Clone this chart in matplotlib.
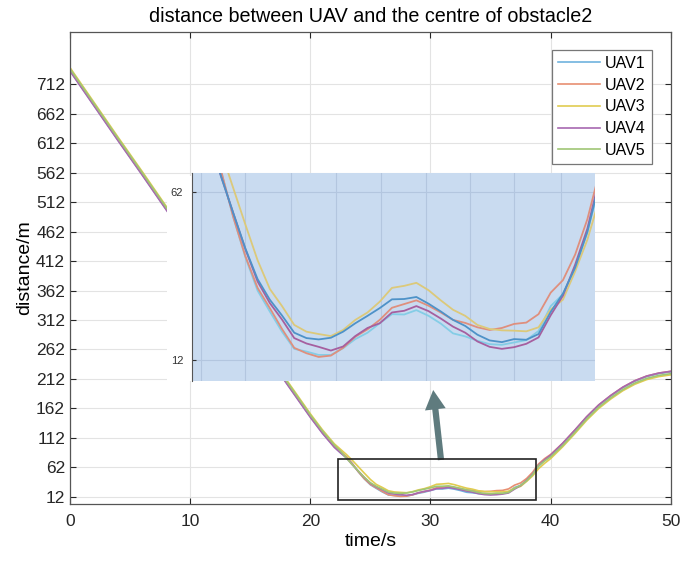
import matplotlib
matplotlib.use('Agg')
import matplotlib.pyplot as plt
from matplotlib.patches import Rectangle

plt.rcParams['font.family'] = ['Liberation Sans', 'DejaVu Sans']

# час, с
t = [0, 2, 4, 6, 8, 10, 12, 14, 16, 18, 20, 21, 22, 22.5,
     23, 23.5, 24, 24.5, 25, 25.5, 26, 26.5, 27, 27.5, 28, 28.5, 29, 29.5,
     30, 30.5, 31, 31.5, 32, 32.5, 33, 33.5, 34, 34.5, 35, 35.5, 36, 36.5,
     37, 37.5, 38, 38.5, 39,
     39.5, 40, 41, 42, 43, 44, 45, 46, 47, 48, 49, 50]

uav1 = [735, 676, 617, 559, 500, 441, 382, 324, 265, 206, 148, 121, 97, 87,
        80, 68.3, 54.5, 42.5, 32.6, 26.4, 20.4, 15.3, 14.5, 13.5, 13.5, 15.5, 18.2, 20.1,
        22.9, 25.6, 25.5, 26.8, 25.1, 22.8, 19.9, 19.0, 17.7, 16.7, 16.5, 17.2, 17.9, 20.6,
        28.0, 31.5, 39.5, 50.0, 64,
        74, 82, 102, 124, 147, 167, 183, 197, 208, 216, 221, 224]
uav2 = [736, 677, 618, 560, 501, 442, 383, 325, 266, 207, 149, 122, 98, 89,
        80, 68.3, 54.5, 42.8, 33.4, 27.4, 21.2, 15.6, 14.0, 12.9, 13.3, 15.6, 18.9, 21.1,
        23.9, 27.5, 28.6, 29.7, 28.1, 26.1, 23.9, 23.0, 21.7, 20.9, 21.5, 22.7, 23.1, 25.6,
        32.0, 35.7, 43.3, 53.8, 68,
        77, 84, 103, 125, 148, 168, 184, 198, 209, 217, 222, 225]
uav3 = [740, 681, 622, 564, 505, 446, 387, 329, 270, 211, 153, 126, 102, 93,
        84, 74, 63.1, 52.2, 41.6, 33.1, 28.0, 22.4, 20.4, 19.7, 19.1, 20.9, 23.9, 26.1,
        29.3, 33.4, 34.0, 34.9, 32.7, 29.7, 26.9, 25.1, 22.4, 21.2, 20.8, 20.7, 20.5, 21.7,
        27.0, 29.9, 38.3, 47.7, 60,
        69, 77, 97, 119, 142, 162, 178, 192, 203, 211, 216, 219]
uav4 = [734, 675, 616, 558, 499, 440, 381, 323, 264, 205, 147, 120, 96, 87,
        78, 66.6, 55.7, 44.9, 35.3, 28.9, 24.0, 18.5, 16.9, 15.9, 14.8, 16.0, 19.1, 21.5,
        22.9, 26.1, 26.6, 28.0, 26.5, 24.3, 21.9, 20.1, 17.5, 15.9, 15.3, 15.8, 16.8, 18.7,
        25.3, 31.1, 40.3, 51.0, 66,
        75, 83, 103, 125, 148, 168, 184, 198, 209, 217, 222, 225]
uav5 = [738, 679, 620, 562, 503, 444, 385, 327, 268, 209, 151, 124, 100, 90,
        78, 66.6, 55.7, 45.1, 36.0, 29.9, 25.2, 20.1, 18.5, 18.1, 18.6, 20.4, 22.9, 25.1,
        27.4, 30.0, 30.1, 30.7, 28.7, 26.4, 23.9, 22.1, 19.5, 17.8, 17.3, 18.2, 18.0, 19.7,
        26.3, 31.7, 39.4, 50.0, 65,
        73, 80, 99, 121, 144, 164, 180, 194, 205, 213, 218, 221]

series = [uav1, uav2, uav3, uav4, uav5]
labels = ['UAV1', 'UAV2', 'UAV3', 'UAV4', 'UAV5']
colors = ['#6fb3de', '#e88f72', '#e0cc50', '#a768b0', '#9fc675']
inset_colors = ['#84cde6', '#df8f7d', '#dcc97a', '#a65f9f', '#4e92c8']

yticks = [12, 62, 112, 162, 212, 262, 312, 362, 412, 462, 512, 562, 612, 662, 712]

fig = plt.figure(figsize=(6.82, 5.63), dpi=100)
ax = fig.add_axes([0.1026, 0.1048, 0.881, 0.838])

for y, lab, c in zip(series, labels, colors):
    ax.plot(t, y, color=c, lw=1.2, label=lab)

ax.set_xlim(0, 50)
ax.set_ylim(0, 800)
ax.set_xticks([0, 10, 20, 30, 40, 50])
ax.set_yticks(yticks)
ax.grid(True, color='#e3e3e3', lw=0.8)
ax.tick_params(direction='in', top=True, right=True, labelsize=12.5, colors='#262626', length=4)
ax.tick_params(axis='x', pad=7)
for s in ax.spines.values():
    s.set_color('#555555')
    s.set_linewidth(0.9)
ax.set_title('distance between UAV and the centre of obstacle2', fontsize=14.2, pad=7)
ax.set_xlabel('time/s', fontsize=14, labelpad=3)
ax.set_ylabel('distance/m', fontsize=14, labelpad=2)

leg = ax.legend(loc='upper right', bbox_to_anchor=(0.968, 0.963), borderaxespad=0,
                fontsize=11.5, fancybox=False, framealpha=1, edgecolor='#777777',
                handlelength=2.6, handletextpad=0.3, labelspacing=0.42,
                borderpad=0.4)
leg.get_frame().set_linewidth(0.9)

# біле тло під вставкою
ax.add_patch(Rectangle((167 / 682, 1 - 381 / 563), (595 - 167) / 682, (381 - 176) / 563,
                       transform=fig.transFigure, facecolor='white', edgecolor='none', zorder=4))

# прямокутник виділення
ax.add_patch(Rectangle((22.3, 6.4), 16.5, 69.3, fill=False, edgecolor='#222222', lw=1.2, zorder=5))

# стрілка
ax.annotate('', xy=(30.2, 198), xytext=(30.9, 70),
            arrowprops=dict(arrowstyle='simple,head_length=1.4,head_width=1.5,tail_width=0.45',
                            color='#5f7b7e', lw=0))

# збільшена вставка
axins = fig.add_axes([0.281, 0.3238, 0.591, 0.3695])
axins.set_facecolor('#c9dbf0')
for y, c in zip(series, inset_colors):
    axins.plot(t, y, color=c, lw=1.3)
axins.set_xlim(22.3, 38.8)
axins.set_ylim(5.85, 67.6)
axins.set_xticks([22.67, 24.5, 26.35, 28.2, 30.05, 31.9, 33.7, 35.5, 37.4])
axins.set_xticklabels([])
axins.set_yticks([12, 62])
axins.grid(True, color='#b3c6df', lw=0.8)
axins.tick_params(axis='y', direction='in', labelsize=8, colors='#333333', length=3, pad=6)
axins.tick_params(axis='x', length=0)
for k in ['top', 'right', 'bottom']:
    axins.spines[k].set_visible(False)
axins.spines['left'].set_color('#555555')

fig.savefig('out.png', dpi=100)
